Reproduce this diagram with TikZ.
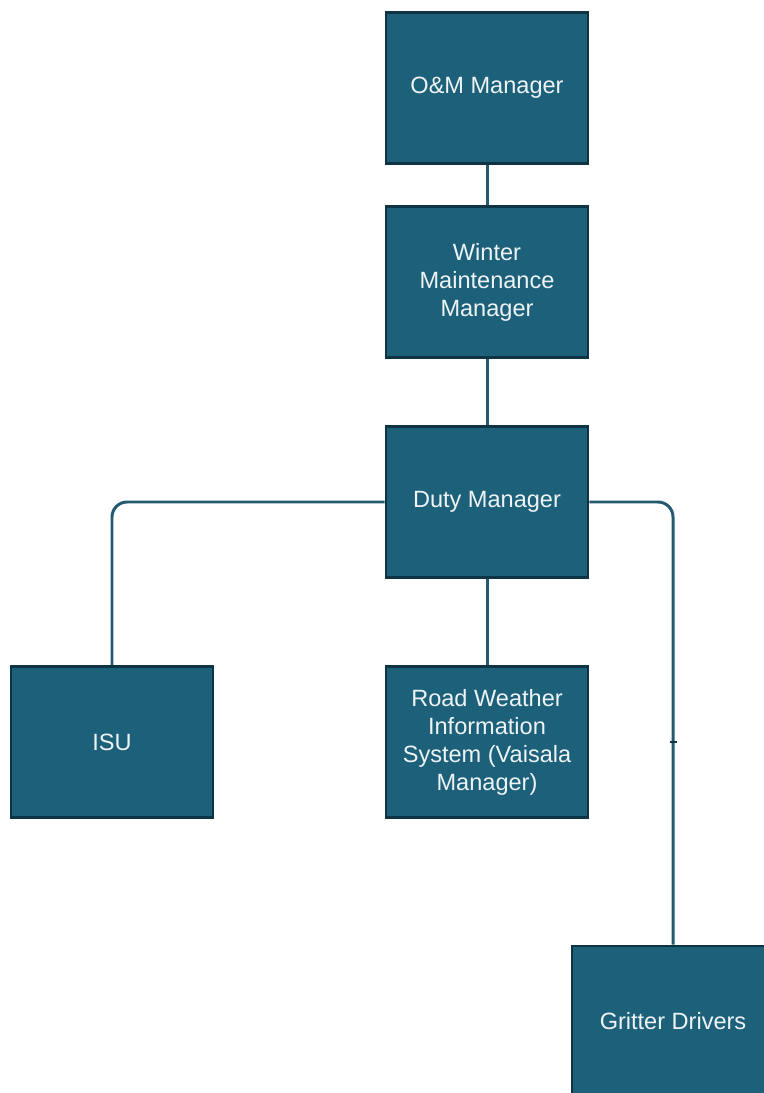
\documentclass[tikz,border=0pt]{standalone}
\usepackage{fontspec}
\setmainfont{Liberation Sans}
\usetikzlibrary{calc}
\definecolor{boxfill}{HTML}{1D6079}
\definecolor{boxline}{HTML}{0E3345}
\definecolor{linkc}{HTML}{245A70}
\definecolor{txtc}{HTML}{EEF4F6}
\tikzset{
  rolebox/.style={rectangle,draw=boxline,line width=1.6pt,fill=boxfill,
    minimum width=4.04cm,minimum height=3.02cm,inner sep=2pt,align=center,
    text=txtc,font=\fontsize{13.4}{15.9}\selectfont},
  link/.style={draw=linkc,line width=1.7pt,rounded corners=.3cm}
}
\begin{document}
\begin{tikzpicture}
  \useasboundingbox (0,0) rectangle (15.28,-21.86);
  \draw(9.74,-1.76) node[rolebox] (om) {O\&M Manager};
  \draw(9.74,-5.64) node[rolebox] (wmm) {Winter\\Maintenance\\Manager};
  \draw(9.74,-10.04) node[rolebox] (duty) {Duty Manager};
  \draw(2.24,-14.84) node[rolebox] (isu) {ISU};
  \draw(9.74,-14.84) node[rolebox] (rwis) {Road Weather\\Information\\System (Vaisala\\Manager)};
  \draw(13.46,-20.43) node[rolebox] (grit) {Gritter Drivers};
  \coordinate (gbend) at (grit.north |- rwis.center);
  \draw[link] (om.south) --  (wmm.north);
  \draw[link] (wmm.south) --  (duty.north);
  \draw[link] (duty.south) --  (rwis.north);
  \draw[link] (duty.west) -| (isu.north);
  \draw[link] (duty.east) -| (gbend) -- (grit.north);
  \draw[boxline,line width=1.4pt] ([xshift=-.07cm]gbend) -- ([xshift=.07cm]gbend);
\end{tikzpicture}
\end{document}
